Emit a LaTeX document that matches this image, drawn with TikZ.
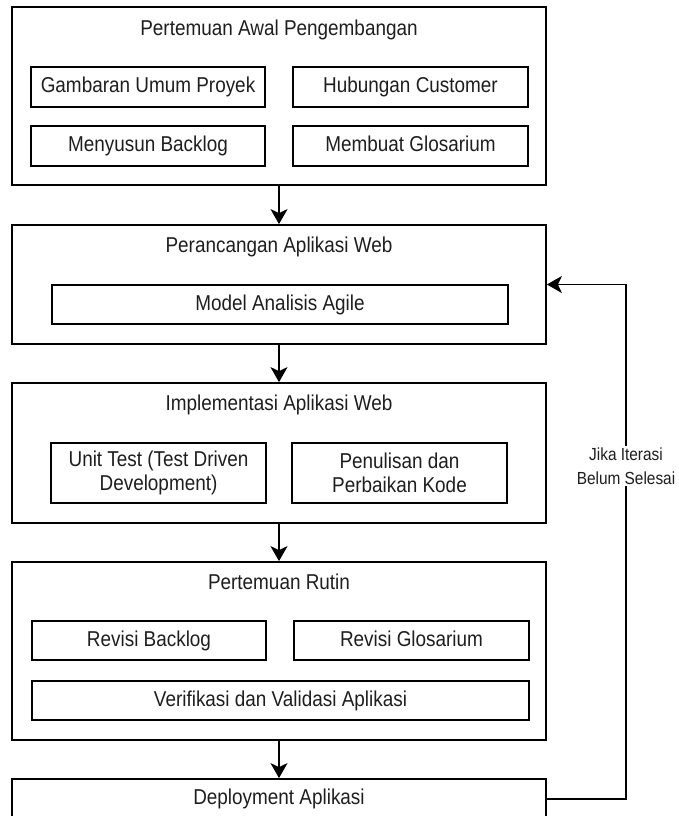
\documentclass[tikz,border=0pt]{standalone}
\usepackage{fontspec}
\setmainfont{Liberation Sans}[FakeStretch=0.88]
\usetikzlibrary{arrows.meta}
\definecolor{txt}{HTML}{1E1E1E}
\begin{document}
\begin{tikzpicture}[x=1pt,y=-1pt,
  outer/.style={draw, line width=1.8pt, minimum width=534pt, inner sep=0pt},
  inner/.style={draw, line width=1.6pt, inner sep=0pt, align=center, text=txt, font=\fontsize{21.5}{24}\selectfont},
  oneline/.style={text height=15.5pt, text depth=4.5pt},
  title/.style={inner sep=0pt, text=txt, text height=15.5pt, text depth=4.5pt, font=\fontsize{21.5}{24}\selectfont},
  flow/.style={line width=1.6pt, -{Stealth[length=15pt,width=17pt,inset=4pt]}},
  lbl/.style={fill=white, align=center, inner sep=2pt, text=txt, font=\fontsize{17.5}{24}\selectfont}]
\useasboundingbox (0,0) rectangle (679,816);
% outer boxes
\node[outer, minimum height=178pt] (b1) at (279,96) {};
\node[outer, minimum height=119pt] (b2) at (279,284.5) {};
\node[outer, minimum height=140pt] (b3) at (279,453) {};
\node[outer, minimum height=178pt] (b4) at (279,651) {};
\node[outer, minimum height=40pt] (b5) at (279,799) {};
% titles
\node[title] (t1) at (279,30) {Pertemuan Awal Pengembangan};
\node[title] (t2) at (279,247) {Perancangan Aplikasi Web};
\node[title] (t3) at (279,405) {Implementasi Aplikasi Web};
\node[title] (t4) at (279,584) {Pertemuan Rutin};
\node[title] (t5) at (279,799) {Deployment Aplikasi};
% inner boxes
\node[inner, oneline, minimum width=234pt, minimum height=40pt] (g) at (148,87) {Gambaran Umum Proyek};
\node[inner, oneline, minimum width=235pt, minimum height=40pt] (h) at (410.5,87) {Hubungan Customer};
\node[inner, oneline, minimum width=234pt, minimum height=40pt] (m) at (148,146) {Menyusun Backlog};
\node[inner, oneline, minimum width=235pt, minimum height=40pt] (mg) at (410.5,146) {Membuat Glosarium};
\node[inner, oneline, minimum width=456pt, minimum height=39pt] (ma) at (280,304.5) {Model Analisis Agile};
\node[inner, minimum width=215pt, minimum height=60pt] (ut) at (158.5,473) {Unit Test (Test Driven\\Development)};
\node[inner, minimum width=215pt, minimum height=60pt] (pk) at (399.5,473) {Penulisan dan\\Perbaikan Kode};
\node[inner, oneline, minimum width=234pt, minimum height=39pt] (rb) at (149,640.5) {Revisi Backlog};
\node[inner, oneline, minimum width=235pt, minimum height=39pt] (rg) at (411.5,640.5) {Revisi Glosarium};
\node[inner, oneline, minimum width=497pt, minimum height=39pt] (vv) at (280.5,700.5) {Verifikasi dan Validasi Aplikasi};
% flow arrows
\draw[flow] (b1.south) -- (b2.north);
\draw[flow] (b2.south) -- (b3.north);
\draw[flow] (b3.south) -- (b4.north);
\draw[flow] (b4.south) -- (b5.north);
% feedback
\coordinate (c1) at (626,799);
\coordinate (c2) at (626,284.5);
\draw[flow] (b5.east) -- (c1) -- (c2) -- (b2.east);
\node[lbl] (jl) at (626,466) {Jika Iterasi\\Belum Selesai};
\end{tikzpicture}
\end{document}
